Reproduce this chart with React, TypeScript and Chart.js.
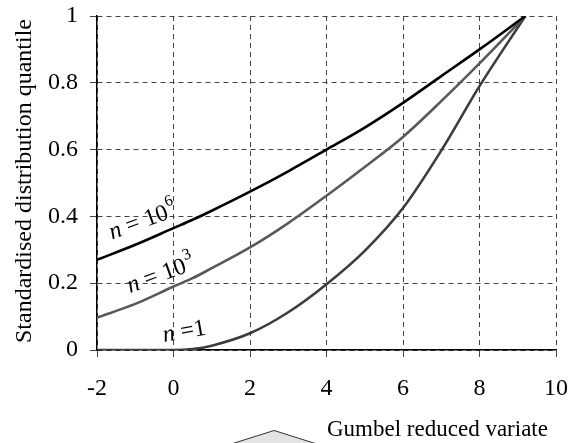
import { useEffect, useRef } from 'react';
import { Chart, registerables } from 'chart.js';

Chart.register(...registerables);

const xValues = [-2, -1, 0, 0.5, 1, 2, 3, 4, 5, 6, 7, 8, 9.2];
const quantileN1e6 = [0.27, 0.315, 0.365, 0.39, 0.417, 0.474, 0.535, 0.6, 0.666, 0.74, 0.82, 0.9, 1];
const quantileN1e3 = [0.097, 0.138, 0.19, 0.215, 0.245, 0.307, 0.38, 0.462, 0.548, 0.638, 0.745, 0.858, 1];
const quantileN1 = [0, 0, 0, 0.003, 0.013, 0.05, 0.113, 0.197, 0.297, 0.425, 0.597, 0.79, 1];

const xTicks = [-2, 0, 2, 4, 6, 8, 10];
const yTicks = [0, 0.2, 0.4, 0.6, 0.8, 1];

const xTitle = 'Gumbel reduced variate';
const yTitle = 'Standardised distribution quantile';

const curveLabels = [
  { pre: ' = 10', sup: '6', x: -1.61, y: 0.331, angle: -20 },
  { pre: ' = 10', sup: '3', x: -1.14, y: 0.171, angle: -20 },
  { pre: ' =1', sup: '', x: -0.25, y: 0.024, angle: -10 },
];

const SERIF = '"Liberation Serif", "Times New Roman", serif';

export default function App() {
  const ref = useRef<HTMLCanvasElement | null>(null);

  useEffect(() => {
    const canvas = ref.current;
    if (!canvas) return;

    const toPts = (ys: number[]) => xValues.map((x, i) => ({ x, y: ys[i] }));

    const decor = {
      id: 'decor',
      afterDraw(chart: any) {
        const ctx = chart.ctx as CanvasRenderingContext2D;
        const xs = chart.scales.x;
        const ys = chart.scales.y;
        ctx.save();
        for (const lab of curveLabels) {
          const px = xs.getPixelForValue(lab.x);
          const py = ys.getPixelForValue(lab.y);
          ctx.save();
          ctx.translate(px, py);
          ctx.rotate((lab.angle * Math.PI) / 180);
          ctx.fillStyle = '#000';
          ctx.textBaseline = 'alphabetic';
          ctx.textAlign = 'left';
          ctx.font = `italic 24px ${SERIF}`;
          ctx.fillText('n', 0, 0);
          let w = ctx.measureText('n').width;
          ctx.font = `24px ${SERIF}`;
          ctx.fillText(lab.pre, w, 0);
          w += ctx.measureText(lab.pre).width;
          if (lab.sup) {
            ctx.font = `16px ${SERIF}`;
            ctx.fillText(lab.sup, w + 1, -12);
          }
          ctx.restore();
        }
        ctx.save();
        ctx.translate(31, (chart.chartArea.top + chart.chartArea.bottom) / 2 - 2);
        ctx.rotate(-Math.PI / 2);
        ctx.font = `24px ${SERIF}`;
        ctx.fillStyle = '#000';
        ctx.textAlign = 'center';
        ctx.textBaseline = 'alphabetic';
        ctx.fillText(yTitle, 0, 0);
        ctx.restore();
        ctx.beginPath();
        ctx.moveTo(228, 445);
        ctx.lineTo(274, 430.5);
        ctx.lineTo(320, 445);
        ctx.closePath();
        ctx.fillStyle = '#e3e3e3';
        ctx.fill();
        ctx.beginPath();
        ctx.moveTo(228, 445);
        ctx.lineTo(274, 430.5);
        ctx.lineTo(320, 445);
        ctx.strokeStyle = '#333';
        ctx.lineWidth = 1;
        ctx.stroke();
        ctx.font = `23px ${SERIF}`;
        ctx.fillStyle = '#000';
        ctx.textAlign = 'left';
        ctx.textBaseline = 'alphabetic';
        ctx.fillText(xTitle, 327, 436);
        ctx.restore();
      },
    };

    const fixPad = (s: any) => {
      s.paddingLeft = 0;
      s.paddingRight = 0;
      s.paddingTop = 0;
      s.paddingBottom = 0;
    };

    const chart = new Chart(canvas, {
      type: 'line',
      data: {
        datasets: [
          { label: 'n = 10^6', data: toPts(quantileN1e6), borderColor: '#000', borderWidth: 2.6 },
          { label: 'n = 10^3', data: toPts(quantileN1e3), borderColor: '#595959', borderWidth: 2.6 },
          { label: 'n = 1', data: toPts(quantileN1), borderColor: '#3d3d3d', borderWidth: 2.6 },
        ].map((d) => ({ ...d, pointRadius: 0, fill: false, cubicInterpolationMode: 'monotone' as const })),
      },
      options: {
        animation: false,
        responsive: false,
        devicePixelRatio: 1,
        layout: { padding: { left: 0, right: 15, top: 16, bottom: 0 } },
        plugins: { legend: { display: false }, tooltip: { enabled: false } },
        scales: {
          x: {
            type: 'linear',
            min: -2,
            max: 10,
            afterBuildTicks: (s: any) => {
              s.ticks = xTicks.map((v) => ({ value: v }));
            },
            afterFit: (s: any) => {
              s.height = 93;
              fixPad(s);
            },
            ticks: {
              font: { family: SERIF, size: 24 },
              color: '#000',
              padding: 17,
              maxRotation: 0,
              callback: (v: any) => String(v),
            },
            grid: { color: '#444', lineWidth: 1, tickLength: 7, tickColor: '#444', tickBorderDash: [] },
            border: { display: true, color: '#000', width: 1.5, dash: [5, 4] },
          },
          y: {
            type: 'linear',
            min: 0,
            max: 1,
            afterBuildTicks: (s: any) => {
              s.ticks = yTicks.map((v) => ({ value: v }));
            },
            afterFit: (s: any) => {
              s.width = 97;
              fixPad(s);
            },
            ticks: { font: { family: SERIF, size: 24 }, color: '#000', padding: 12, callback: (v: any) => String(v) },
            grid: { color: '#444', lineWidth: 1, tickLength: 7, tickColor: '#444', tickBorderDash: [] },
            border: { display: true, color: '#000', width: 1.5, dash: [5, 4] },
          },
        },
      },
      plugins: [decor],
    });

    return () => chart.destroy();
  }, []);

  return (
    <div style={{ position: 'fixed', left: 0, top: 0, width: 571, height: 443, background: '#fff' }}>
      <canvas ref={ref} width={571} height={443} style={{ display: 'block', width: 571, height: 443 }} />
    </div>
  );
}
